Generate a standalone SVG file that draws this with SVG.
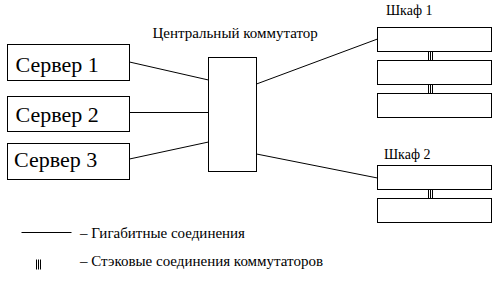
<svg xmlns="http://www.w3.org/2000/svg" width="499" height="281" viewBox="0 0 499 281">
<style>
.box{fill:#fff;stroke:#000;stroke-width:1}
.ln{stroke:#000;stroke-width:1;fill:none}
text{fill:#000;font-family:"Liberation Serif","Times New Roman",serif}
.big{font-size:22px}
.sm{font-size:14px}
.md{font-size:15px}
</style>
<defs>
<g id="stack"><line x1="0" y1="0" x2="0" y2="10" class="ln"/><line x1="2" y1="0" x2="2" y2="10" class="ln"/><line x1="4" y1="0" x2="4" y2="10" class="ln"/></g>
</defs>
<rect width="499" height="281" fill="#fff"/>
<g id="connectors">
<line class="ln" x1="129.5" y1="62" x2="208.5" y2="80"/>
<line class="ln" x1="129.5" y1="112.5" x2="208.5" y2="112.5"/>
<line class="ln" x1="129.5" y1="159" x2="208.5" y2="142"/>
<line class="ln" x1="256.5" y1="84" x2="377.5" y2="39"/>
<line class="ln" x1="256.5" y1="154" x2="377.5" y2="178"/>
<use href="#stack" x="428.5" y="51"/>
<use href="#stack" x="428.5" y="84"/>
<use href="#stack" x="428.5" y="189"/>
</g>
<g id="server1"><rect class="box" x="7.5" y="44.5" width="122" height="36"/><text class="big" x="15.5" y="71.5">Сервер 1</text></g>
<g id="server2"><rect class="box" x="7.5" y="96.5" width="122" height="35"/><text class="big" x="15.5" y="121.5">Сервер 2</text></g>
<g id="server3"><rect class="box" x="7.5" y="143.5" width="122" height="36"/><text class="big" x="14" y="166.5">Сервер 3</text></g>
<g id="switch"><rect class="box" x="208.5" y="57.5" width="48" height="114"/><text class="md" x="152.5" y="38">Центральный коммутатор</text></g>
<g id="cabinet1">
<text class="sm" x="386" y="15">Шкаф 1</text>
<rect class="box" x="377.5" y="27.5" width="114" height="24"/>
<rect class="box" x="377.5" y="60.5" width="114" height="24"/>
<rect class="box" x="377.5" y="93.5" width="114" height="24"/>
</g>
<g id="cabinet2">
<text class="sm" x="384" y="158.5">Шкаф 2</text>
<rect class="box" x="377.5" y="165.5" width="114" height="24"/>
<rect class="box" x="377.5" y="198.5" width="114" height="24"/>
</g>
<g id="legend">
<line class="ln" x1="21.5" y1="232.5" x2="71.5" y2="232.5"/>
<text class="md" x="80" y="237.5">– Гигабитные соединения</text>
<use href="#stack" x="36.5" y="259.5"/>
<text class="md" x="80" y="266">– Стэковые соединения коммутаторов</text>
</g>
</svg>
